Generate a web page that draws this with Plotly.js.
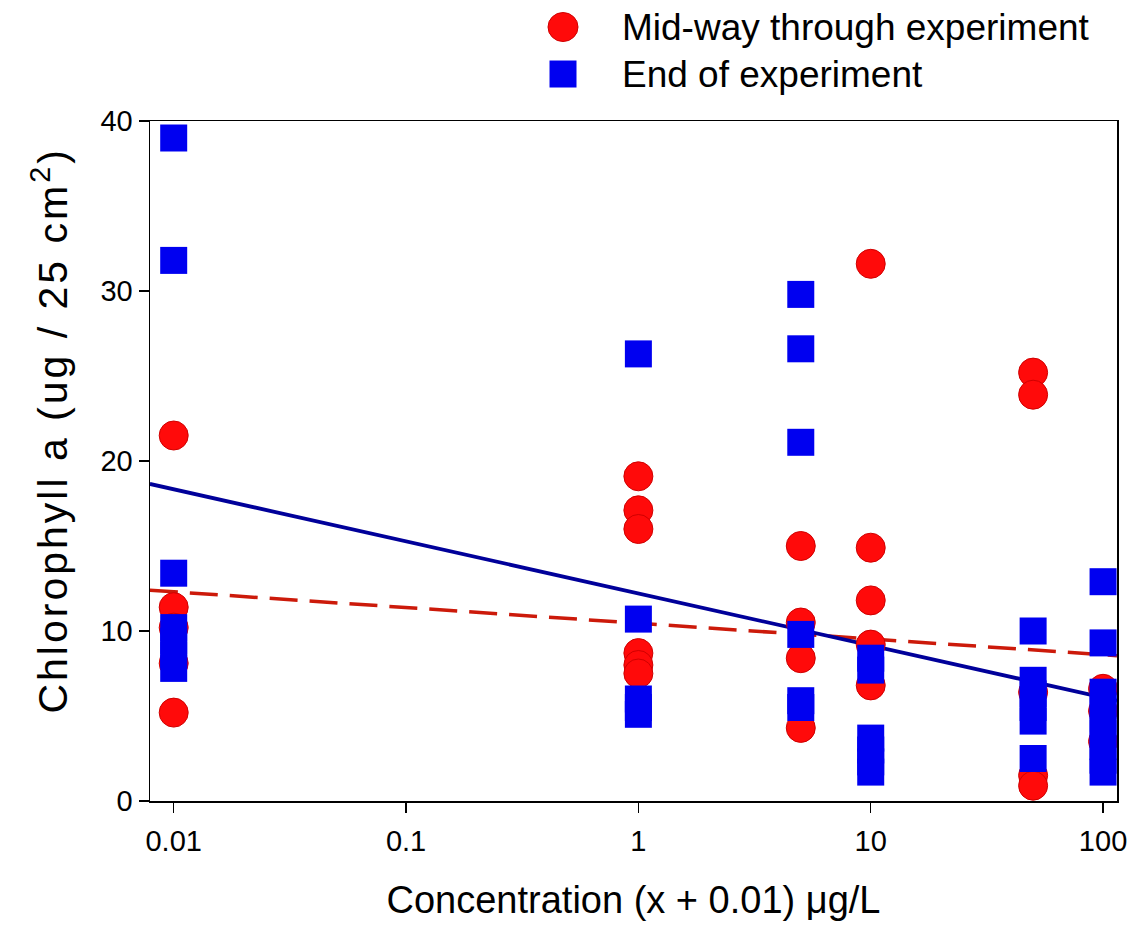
<!DOCTYPE html>
<html>
<head>
<meta charset="utf-8">
<script src="https://cdn.plot.ly/plotly-3.0.1.min.js"></script>
<style>
body{margin:0;padding:0;background:#fff;}
.annotation[data-index="2"] text{letter-spacing:3px;}
</style>
</head>
<body>
<div id="chart" style="width:1138px;height:938px;"></div>
<script>
// Concentrations (x + 0.01) µg/L
const midX = [0.01,0.01,0.01,0.01,0.01, 1,1,1,1,1,1, 5,5,5,5, 10,10,10,10,10, 50,50,50,50,50, 100,100,100];
const midY = [21.5,11.4,10.2,8.1,5.2, 19.1,17.1,16.0,8.7,8.0,7.5, 15.0,10.5,8.4,4.3, 31.6,14.9,11.8,9.2,6.8, 25.2,23.9,6.4,1.5,0.9, 6.6,5.3,3.5];

const endX = [0.01,0.01,0.01,0.01,0.01,0.01,0.01, 1,1,1,1,1, 5,5,5,5,5,5, 10,10,10,10,10,10, 50,50,50,50,50,50, 100,100,100,100,100,100,100,100,100];
const endY = [39.0,31.8,13.4,10.2,9.4,8.6,7.8, 26.3,10.7,6.0,5.5,5.1, 29.8,26.6,21.1,9.8,5.9,5.5, 8.4,7.7,3.7,3.0,2.3,1.7, 10.0,7.1,6.3,5.5,4.7,2.5, 12.9,9.3,6.4,5.6,4.8,4.0,3.2,2.4,1.7];

// Regression lines (ends at the axis limits)
const fitX = [0.0079, 114.8];
const midFitY = [12.4, 8.55];
const endFitY = [18.65, 5.9];

const xTickVals = [0.01, 0.1, 1, 10, 100];
const xTickText = ['0.01', '0.1', '1', '10', '100'];
const yTickVals = [0, 10, 20, 30, 40];

const seriesNames = ['Mid-way through experiment', 'End of experiment'];
const xTitle = 'Concentration (x + 0.01) μg/L';
const yTitle = 'Chlorophyll a (ug / 25 cm<sup>2</sup>)';

const FONT = 'Arial, "Liberation Sans", sans-serif';
const RED = '#ff0a0a', RED_EDGE = '#d00000', BLUE = '#0000f0';

const traces = [
  {x: fitX, y: midFitY, mode: 'lines', line: {color: '#cc1a0a', width: 3.5, dash: '28px,12px'}, showlegend: false, hoverinfo: 'skip'},
  {x: fitX, y: endFitY, mode: 'lines', line: {color: '#00009a', width: 3.8}, showlegend: false, hoverinfo: 'skip'},
  {x: midX, y: midY, mode: 'markers', name: seriesNames[0],
   marker: {symbol: 'circle', size: 29, color: RED, line: {color: RED_EDGE, width: 1}}, showlegend: false},
  {x: endX, y: endY, mode: 'markers', name: seriesNames[1],
   marker: {symbol: 'square', size: 27, color: BLUE, line: {width: 0}}, showlegend: false}
];

const legX = 0.4271, legTextX = 0.486;
const legY1 = 1.1382, legY2 = 1.0691;

const layout = {
  width: 1138, height: 938,
  margin: {l: 150, r: 21, t: 121, b: 137, pad: 0},
  paper_bgcolor: '#ffffff', plot_bgcolor: '#ffffff',
  font: {family: FONT, color: '#000000'},
  showlegend: false,
  xaxis: {
    type: 'log', range: [-2.102, 2.06],
    tickvals: xTickVals, ticktext: xTickText,
    ticks: 'outside', ticklen: 10, tickwidth: 1.5, tickcolor: '#000',
    showline: true, linecolor: '#000', linewidth: 1.5, mirror: true,
    showgrid: false, zeroline: false, ticklabelstandoff: 4,
    tickfont: {family: FONT, size: 29, color: '#000'},
    title: {text: xTitle, font: {family: FONT, size: 38, color: '#000'}, standoff: 30}
  },
  yaxis: {
    range: [0, 40],
    tickvals: yTickVals,
    ticks: 'outside', ticklen: 10, tickwidth: 1.5, tickcolor: '#000',
    showline: true, linecolor: '#000', linewidth: 1.5, mirror: true,
    showgrid: false, zeroline: false,
    tickfont: {family: FONT, size: 29, color: '#000'}
  },
  shapes: [
    {type: 'circle', xref: 'paper', yref: 'paper', xsizemode: 'pixel', ysizemode: 'pixel',
     xanchor: legX, yanchor: legY1, x0: -15, x1: 15, y0: -14.5, y1: 14.5,
     fillcolor: RED, line: {color: RED_EDGE, width: 1}},
    {type: 'rect', xref: 'paper', yref: 'paper', xsizemode: 'pixel', ysizemode: 'pixel',
     xanchor: legX, yanchor: legY2, x0: -13.5, x1: 13.5, y0: -13.5, y1: 13.5,
     fillcolor: BLUE, line: {width: 0}}
  ],
  annotations: [
    {text: seriesNames[0], xref: 'paper', yref: 'paper', x: legTextX, y: legY1, xanchor: 'left', yanchor: 'middle',
     showarrow: false, font: {family: FONT, size: 37, color: '#000'}},
    {text: seriesNames[1], xref: 'paper', yref: 'paper', x: legTextX, y: legY2, xanchor: 'left', yanchor: 'middle',
     showarrow: false, font: {family: FONT, size: 37, color: '#000'}},
    {text: yTitle, xref: 'paper', yref: 'paper', x: -0.1034, y: 0.544, xanchor: 'center', yanchor: 'middle',
     textangle: -90, showarrow: false, font: {family: FONT, size: 41, color: '#000'}}
  ]
};

Plotly.newPlot('chart', traces, layout, {displayModeBar: false, staticPlot: true});
</script>
</body>
</html>
